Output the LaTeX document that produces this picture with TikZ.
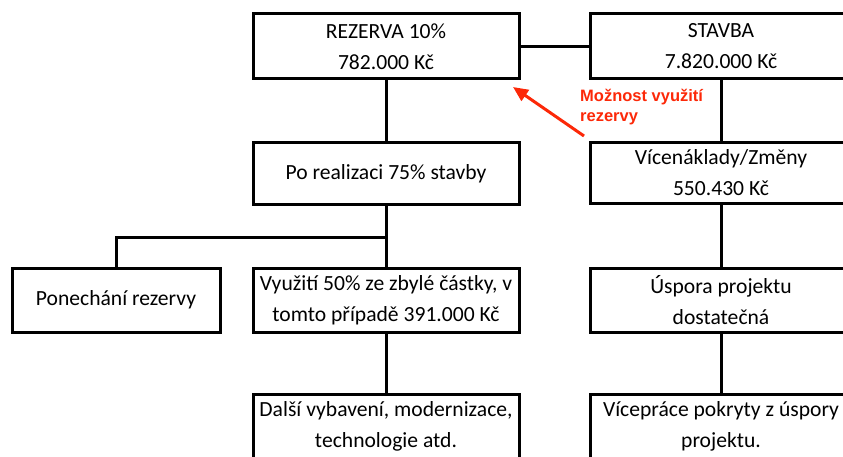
\documentclass[tikz,border=0pt]{standalone}
\usepackage{fontspec}
\setmainfont{Carlito}
\newfontfamily\notefont{Liberation Sans}
\usetikzlibrary{arrows.meta}
\definecolor{notered}{RGB}{252,40,8}
\tikzset{
  box/.style={draw=black, line width=3pt, fill=white, align=center,
    minimum height=64pt, inner sep=0pt,
    font=\fontsize{21.6}{31}\selectfont},
  leftbox/.style={box, minimum width=266pt},
  rightbox/.style={box, minimum width=262pt},
  link/.style={draw=black, line width=3pt},
  note/.style={text=notered, align=left, anchor=base west, inner sep=0pt,
    font=\notefont\bfseries\fontsize{16.5}{19.5}\selectfont},
  notearrow/.style={draw=notered, line width=3pt,
    -{Triangle[length=15pt,width=13pt]}}
}
\begin{document}
\begin{tikzpicture}[x=1pt, y=-1pt]
  \useasboundingbox (0,0) rectangle (843,457);

  % top row
  \node[leftbox, minimum height=65pt] (rez) at (386,46.5) {REZERVA 10\%\\782.000 Kč};
  \node[rightbox, minimum height=65pt] (stavba) at (721,46.5) {STAVBA\\7.820.000 Kč};

  % second row
  \node[leftbox, minimum height=62pt] (po) at (386,174) {Po realizaci 75\% stavby};
  \node[rightbox, minimum height=61pt] (vice) at (721,173) {Vícenáklady/Změny\\550.430 Kč};

  % third row
  \node[box, minimum width=208pt] (pon) at (116,300) {Ponechání rezervy};
  \node[leftbox] (vyuz) at (386,300) {Využití 50\% ze zbylé částky, v\\tomto případě 391.000 Kč};
  \node[rightbox] (uspora) at (721,300) {Úspora projektu\\dostatečná};

  % bottom row
  \node[leftbox] (dalsi) at (386,426) {Další vybavení, modernizace,\\technologie atd.};
  \node[rightbox] (vicep) at (721,426) {Vícepráce pokryty z úspory\\projektu.};

  % connectors
  \draw[link] (rez.east) -- (stavba.west);
  \draw[link] (rez.south) -- (po.north);
  \draw[link] (stavba.south) -- (vice.north);
  \draw[link] (po.south) -- (vyuz.north);
  \coordinate (branch) at (386,237);
  \draw[link] (branch) -| (pon.north);
  \draw[link] (vyuz.south) -- (dalsi.north);
  \draw[link] (vice.south) -- (uspora.north);
  \draw[link] (uspora.south) -- (vicep.north);

  % note on using the reserve (base anchor sits on the last line)
  \node[note] (notetext) at (580,121.5) {Možnost využití\\rezervy};
  \coordinate (notetail) at (584,136);
  \coordinate (notetip) at (513,87);
  \draw[notearrow] (notetail) -- (notetip);
\end{tikzpicture}
\end{document}
